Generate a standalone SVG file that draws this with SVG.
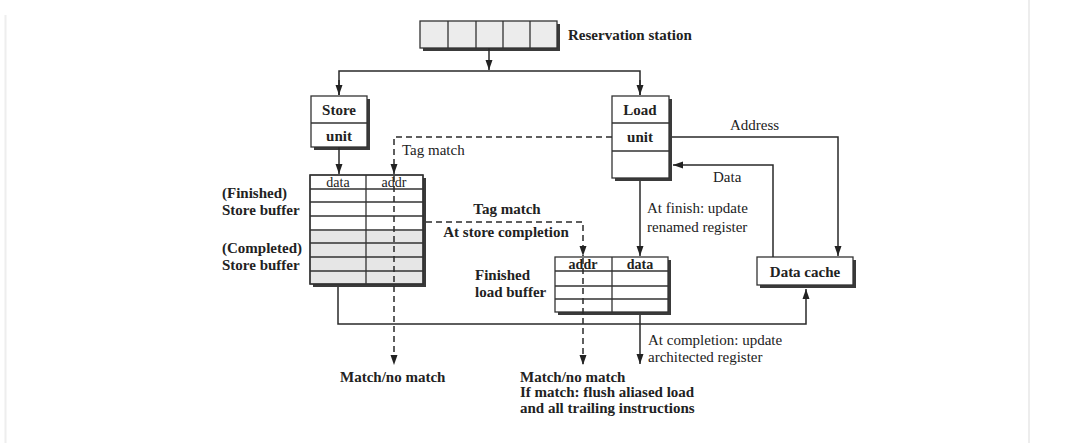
<svg xmlns="http://www.w3.org/2000/svg" width="1080" height="443" viewBox="0 0 1080 443">
<style>
  text { font-family: "Liberation Serif", "Times New Roman", serif; font-size: 15px; fill: #222; }
  .b { font-weight: bold; }
  .c { text-anchor: middle; }
  .h { font-size: 14px; }
  .box { fill: #fff; stroke: #333; stroke-width: 1.3; }
  .cell { fill: #ececec; stroke: #333; stroke-width: 1.3; }
  .gray { fill: #e6e6e6; stroke: none; }
  .shadow { fill: #3a3a3a; }
  .ln { stroke: #333; stroke-width: 1.3; fill: none; }
  .wire { stroke: #2a2a2a; stroke-width: 1.5; fill: none; }
  .dash { stroke: #2a2a2a; stroke-width: 1.5; fill: none; stroke-dasharray: 6 4; }
</style>
<defs>
  <marker id="arr" markerUnits="userSpaceOnUse" markerWidth="10" markerHeight="10" viewBox="0 0 10 10" refX="10" refY="5" orient="auto">
    <path d="M0,1.5 L10,5 L0,8.5 Z" fill="#222"/>
  </marker>
</defs>
<rect width="1080" height="443" fill="#fff"/>
<line x1="5.5" y1="15" x2="5.5" y2="443" stroke="#eeeeee" stroke-width="2"/>
<line x1="1029" y1="0" x2="1029" y2="443" stroke="#ededed" stroke-width="2"/>

<g id="reservation-station">
  <rect class="shadow" x="423" y="24" width="137" height="27"/>
  <rect class="cell" x="420" y="21" width="137" height="27"/>
  <path class="ln" d="M448,21V48M476,21V48M503,21V48M530,21V48"/>
  <text class="b" x="568" y="40">Reservation station</text>
</g>

<g id="store-unit">
  <rect class="shadow" x="314" y="99" width="56" height="51"/>
  <rect class="box" x="311" y="96" width="56" height="51"/>
  <path class="ln" d="M311,123H367"/>
  <text class="b c" x="339" y="115">Store</text>
  <text class="b c" x="339" y="141">unit</text>
</g>

<g id="load-unit">
  <rect class="shadow" x="615" y="99" width="57" height="82"/>
  <rect class="box" x="612" y="96" width="57" height="82"/>
  <path class="ln" d="M612,123H669M612,151H669"/>
  <text class="b c" x="640" y="115">Load</text>
  <text class="b c" x="640" y="142">unit</text>
</g>

<g id="store-buffer">
  <rect class="shadow" x="313" y="178" width="113" height="109"/>
  <rect class="box" x="310" y="175" width="113" height="109"/>
  <rect class="gray" x="311" y="231" width="111" height="52"/>
  <path class="ln" d="M366,175V284M310,189H423M310,202H423M310,216H423M310,230H423M310,243H423M310,257H423M310,271H423"/>
  <rect x="310" y="175" width="113" height="109" fill="none" stroke="#333" stroke-width="1.3"/>
  <text class="h c" x="338" y="187">data</text>
  <text class="h c" x="394" y="187">addr</text>
  <text class="b" x="222" y="198">(Finished)</text>
  <text class="b" x="222" y="215">Store buffer</text>
  <text class="b" x="222" y="253">(Completed)</text>
  <text class="b" x="222" y="270">Store buffer</text>
</g>

<g id="load-buffer">
  <rect class="shadow" x="558" y="260" width="113" height="55"/>
  <rect class="box" x="555" y="257" width="113" height="55"/>
  <path class="ln" d="M612,257V312M555,271H668M555,286H668M555,299H668"/>
  <text class="b h c" x="583" y="269">addr</text>
  <text class="b h c" x="640" y="269">data</text>
  <text class="b" x="475" y="280">Finished</text>
  <text class="b" x="475" y="297">load buffer</text>
</g>

<g id="data-cache">
  <rect class="shadow" x="760" y="260" width="96" height="28"/>
  <rect class="box" x="757" y="257" width="96" height="28"/>
  <text class="b c" x="805" y="277">Data cache</text>
</g>

<g id="connectors">
  <path class="wire" d="M489,48V70" marker-end="url(#arr)"/>
  <path class="wire" d="M339,95V71H640V95" />
  <path class="wire" d="M339,80V95" marker-end="url(#arr)"/>
  <path class="wire" d="M640,80V95" marker-end="url(#arr)"/>
  <path class="wire" d="M339,147V174" marker-end="url(#arr)"/>
  <path class="dash" d="M612,137H394V174" marker-end="url(#arr)"/>
  <path class="dash" d="M394,176V365" marker-end="url(#arr)"/>
  <path class="dash" d="M426,222H583V256" marker-end="url(#arr)"/>
  <path class="dash" d="M583,258V365" marker-end="url(#arr)"/>
  <path class="wire" d="M640,181V256" marker-end="url(#arr)"/>
  <path class="wire" d="M640,315V364" marker-end="url(#arr)"/>
  <path class="wire" d="M672,137H838V256" marker-end="url(#arr)"/>
  <path class="wire" d="M773,257V165H673" marker-end="url(#arr)"/>
  <path class="wire" d="M338,287V324H806V289" marker-end="url(#arr)"/>
  <text x="402" y="155">Tag match</text>
  <text class="b c" x="507" y="214">Tag match</text>
  <text class="b c" x="506" y="237">At store completion</text>
  <text x="730" y="130">Address</text>
  <text x="713" y="182">Data</text>
  <text x="647" y="213">At finish: update</text>
  <text x="647" y="232">renamed register</text>
  <text x="648" y="345">At completion: update</text>
  <text x="648" y="362">architected register</text>
  <text class="b" x="340" y="382">Match/no match</text>
  <text class="b" x="520" y="382">Match/no match</text>
  <text class="b" x="520" y="397">If match: flush aliased load</text>
  <text class="b" x="520" y="413">and all trailing instructions</text>
</g>
</svg>
